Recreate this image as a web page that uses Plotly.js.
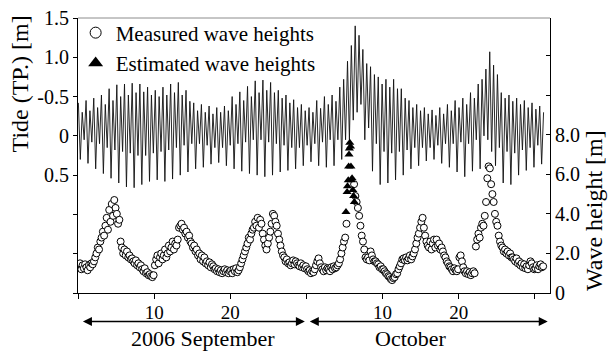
<!DOCTYPE html>
<html>
<head>
<meta charset="utf-8">
<script src="https://cdn.plot.ly/plotly-3.0.1.min.js"></script>
<style>html,body{margin:0;padding:0;background:#fff;}#chart{width:615px;height:353px;}</style>
</head>
<body>
<div id="chart"></div>
<script>
// ---- Data ----
// Time axis: days counted from 31 Aug 2006 (Sep d -> d, Oct d -> 30 + d)
const xTickVals = [0, 10, 20, 30, 40, 50, 60];
const xTickText = ['', '10', '20', '', '10', '20', ''];

// Tide (TP.) [m]: successive high / low water levels
const tideStart = 0.05;
const tideStep = 0.2525;
const tideLevels = [
  -0.42, 0.30, -0.30, 0.05,  -0.45, 0.35, -0.32, 0.08,  -0.48, 0.42, -0.36, 0.10,
  -0.52, 0.48, -0.40, 0.15,  -0.60, 0.54, -0.45, 0.18,  -0.65, 0.60, -0.50, 0.20,
  -0.66, 0.65, -0.52, 0.22,  -0.67, 0.66, -0.55, 0.25,  -0.66, 0.62, -0.56, 0.25,
  -0.62, 0.58, -0.52, 0.22,  -0.58, 0.56, -0.50, 0.20,  -0.62, 0.58, -0.52, 0.18,
  -0.66, 0.55, -0.55, 0.15,  -0.68, 0.50, -0.52, 0.12,  -0.58, 0.46, -0.44, 0.10,
  -0.42, 0.42, -0.32, 0.10,  -0.40, 0.40, -0.30, 0.12,  -0.38, 0.36, -0.28, 0.15,
  -0.36, 0.34, -0.30, 0.15,  -0.38, 0.38, -0.32, 0.12,  -0.50, 0.42, -0.40, 0.10,
  -0.56, 0.45, -0.45, 0.08,  -0.63, 0.48, -0.50, 0.05,  -0.70, 0.50, -0.55, 0.05,
  -0.71, 0.52, -0.58, 0.08,  -0.68, 0.50, -0.55, 0.10,  -0.58, 0.46, -0.48, 0.12,
  -0.52, 0.44, -0.42, 0.15,  -0.46, 0.42, -0.36, 0.15,  -0.40, 0.38, -0.32, 0.12,
  -0.36, 0.33, -0.30, 0.10,  -0.45, 0.38, -0.35, 0.08,  -0.50, 0.40, -0.40, 0.05,
  -0.52, 0.38, -0.44, 0.05,  -0.62, 0.30, -0.72, 0.05,  -0.95, 0.05, -1.15, -0.20,
  -1.40, -0.30, -1.28, -0.40, -1.10, 0.05, -0.92, -0.10, -0.88, 0.45, -0.78, 0.10,
  -0.75, 0.62, -0.66, 0.20,  -0.72, 0.60, -0.62, 0.22,  -0.72, 0.56, -0.60, 0.20,
  -0.60, 0.50, -0.48, 0.18,  -0.45, 0.42, -0.36, 0.15,  -0.40, 0.38, -0.32, 0.15,
  -0.36, 0.32, -0.28, 0.15,  -0.33, 0.30, -0.26, 0.12,  -0.36, 0.35, -0.28, 0.10,
  -0.40, 0.40, -0.32, 0.10,  -0.45, 0.46, -0.36, 0.08,  -0.48, 0.52, -0.40, 0.10,
  -0.55, 0.45, -0.48, 0.05,  -0.66, 0.42, -0.72, 0.00,  -0.85, 0.05, -1.07, 0.20,
  -0.90, 0.38, -0.78, 0.15,  -0.55, 0.60, -0.48, 0.20,  -0.52, 0.62, -0.44, 0.22,
  -0.48, 0.50, -0.40, 0.18,  -0.45, 0.44, -0.36, 0.15,  -0.42, 0.40, -0.34, 0.12,
  -0.38, 0.36, -0.30
];

// Measured wave heights [m], 4-hourly
const waveStart = 0.1;
const waveStep = 1 / 6;
const measuredWave = [
  1.3, 1.5, 1.2, 1.4, 1.25, 1.45,    1.3, 1.15, 1.4, 1.3, 1.5, 1.45,
  1.6, 1.8, 2.0, 2.3, 2.2, 2.6,      2.8, 3.1, 2.9, 3.4, 3.8, 3.2,
  4.2, 3.6, 4.5, 3.9, 4.7, 4.3,      4.0, 3.5, 3.7, 2.6, 2.3, 2.0,
  2.2, 1.9, 2.1, 1.8, 1.9, 1.7,      1.75, 1.6, 1.5, 1.65, 1.4, 1.5,
  1.3, 1.4, 1.2, 1.1, 1.25, 1.0,     1.05, 0.9, 0.95, 0.85, 0.8, 0.9,
  1.4, 1.7, 1.9, 1.5, 1.8, 2.0,      1.7, 1.9, 2.2, 1.8, 2.0, 2.4,
  2.1, 2.3, 2.6, 2.2, 2.5, 2.4,      2.7, 3.3, 3.4, 3.5, 3.2, 3.3,
  3.0, 3.1, 2.8, 2.9, 2.6, 2.5,      2.3, 2.4, 2.1, 2.2, 1.9, 2.0,
  1.7, 1.9, 1.6, 1.8, 1.5, 1.6,      1.4, 1.55, 1.3, 1.45, 1.35, 1.2,
  1.25, 1.1, 1.2, 1.05, 1.15, 1.0,   1.1, 1.2, 1.05, 1.15, 1.0, 1.1,
  1.15, 1.0, 1.2, 1.1, 1.25, 1.05,   1.15, 1.3, 1.5, 1.7, 1.9, 2.1,
  2.3, 2.5, 2.8, 2.7, 3.0, 3.2,      3.3, 3.6, 3.4, 3.8, 3.3, 3.7,
  3.5, 3.0, 2.7, 2.4, 2.2, 2.5,      2.8, 3.1, 3.5, 4.0, 3.9, 3.6,
  3.4, 3.0, 2.7, 2.4, 2.1, 1.9,      1.8, 1.6, 1.7, 1.5, 1.55, 1.4,
  1.5, 1.65, 1.45, 1.6, 1.5, 1.4,    1.35, 1.5, 1.3, 1.4, 1.25, 1.35,
  1.2, 1.1, 1.15, 1.0, 1.1, 1.05,    1.2, 1.4, 1.6, 1.75, 1.5, 1.3,
  1.2, 1.1, 1.3, 1.15, 1.25, 1.2,    1.1, 1.3, 1.2, 1.35, 1.25, 1.3,
  1.4, 1.5, 1.7, 2.0, 2.3, 2.6,      2.8, 3.5, null, null, null, null,
  null, 5.5, 4.9, 4.6, 4.3, 3.9,     3.4, 2.9, 2.6, 2.2, 1.8, 1.7,
  1.8, 1.65, 2.1, 1.9, 1.7, 1.6,     1.6, 1.5, 1.45, 1.3, 1.35, 1.2,
  1.2, 1.1, 1.0, 0.95, 0.85, 0.8,    0.7, 0.65, 0.75, 0.8, 0.95, 1.0,
  1.2, 1.35, 1.5, 1.7, 1.75, 1.65,   1.8, 1.65, 1.75, 1.9, 1.7, 1.85,
  2.0, 2.2, 2.5, 2.8, 3.0, 3.3,      3.6, 3.8, 3.3, 2.9, 2.6, 2.4,
  2.3, 2.6, 2.2, 2.5, 2.7, 2.3,      2.7, 2.4, 2.5, 2.2, 2.3, 2.1,
  1.9, 1.8, 1.6, 1.5, 1.35, 1.3,     1.2, 1.1, 1.25, 1.15, 1.1, 1.2,
  1.8, 1.9, 1.6, 1.3, 1.1, 1.0,      1.1, 0.95, 1.05, 0.9, 1.0, 1.1,
  1.0, 2.35, 2.7, 3.0, 2.8, 3.3,     3.5, 3.4, 3.9, 4.6, 5.8, 6.4,
  6.3, 5.5, 5.0, 4.6, 4.0, 3.6,      3.4, 2.9, 2.6, 2.4, 2.3, 2.1,
  2.2, 2.0, 2.1, 1.9, 2.0, 1.8,      1.8, 1.7, 1.6, 1.75, 1.5, 1.6,
  1.4, 1.5, 1.3, 1.45, 1.25, 1.35,   1.2, 1.4, 1.6, 1.5, 1.3, 1.2,
  1.25, 1.4, 1.2, 1.35, 1.45, 1.3,   1.35
];

// Estimated wave heights [m]
const estDay = [35.2, 35.35, 35.4, 35.5, 35.55, 35.6, 35.65, 35.7, 35.8, 35.85, 35.9, 36.0, 36.1, 36.2, 36.3];
const estWave = [4.1, 5.1, 5.4, 5.7, 6.4, 7.0, 7.3, 7.6, 7.4, 6.4, 5.7, 5.8, 5.2, 4.9, 4.6];

// Axis ticks
const tideTickVals = [-1.5, -1.0, -0.5, 0, 0.5, 1.0, 1.5, 2.0];
const tideTickText = ['1.5', '1.0', '-0.5', '0', '0.5', '', '', ''];
const waveTickVals = [0, 2, 4, 6, 8, 10, 12];
const waveTickText = ['0', '2.0', '4.0', '6.0', '8.0', '', ''];

// ---- Build traces ----
const tideX = tideLevels.map((_, i) => tideStart + i * tideStep);
const waveX = measuredWave.map((_, i) => waveStart + i * waveStep);

const FONT = '"Liberation Serif", "Times New Roman", serif';

const traces = [
  {x: tideX, y: tideLevels, type: 'scatter', mode: 'lines',
   line: {color: '#111', width: 0.9}, showlegend: false, yaxis: 'y', hoverinfo: 'skip'},
  {x: waveX, y: measuredWave, type: 'scatter', mode: 'markers', showlegend: false,
   marker: {symbol: 'circle', size: 7, color: '#fff', line: {color: '#000', width: 1}},
   yaxis: 'y2'},
  {x: estDay, y: estWave, type: 'scatter', mode: 'markers', showlegend: false,
   marker: {symbol: 'triangle-up', size: 8, color: '#000', line: {width: 0}},
   yaxis: 'y2'},
  // legend entries (larger symbols as in the original key)
  {x: [null], y: [null], type: 'scatter', mode: 'markers', name: 'Measured wave heights',
   marker: {symbol: 'circle', size: 11, color: '#fff', line: {color: '#000', width: 1}}, yaxis: 'y2'},
  {x: [null], y: [null], type: 'scatter', mode: 'markers', name: 'Estimated wave heights',
   marker: {symbol: 'triangle-up', size: 13, color: '#000', line: {width: 0}}, yaxis: 'y2'}
];

const layout = {
  width: 615, height: 353,
  margin: {l: 78, r: 65, t: 15, b: 60},
  paper_bgcolor: '#fff', plot_bgcolor: '#fff',
  font: {family: FONT, size: 19, color: '#000'},
  showlegend: true,
  legend: {
    x: -0.005, y: 1.02, xanchor: 'left', yanchor: 'top',
    bgcolor: 'rgba(0,0,0,0)', font: {family: FONT, size: 21, color: '#000'},
    itemsizing: 'trace', tracegroupgap: 0
  },
  xaxis: {
    range: [0, 62], showgrid: false, zeroline: false,
    showline: true, linecolor: '#000', linewidth: 1,
    ticks: 'outside', ticklen: 5, tickcolor: '#000',
    tickvals: xTickVals, ticktext: xTickText, ticklabelstandoff: -3,
    tickfont: {family: FONT, size: 19}
  },
  yaxis: {
    range: [2.0, -1.5], showgrid: false, zeroline: false,
    showline: true, linecolor: '#000', linewidth: 1,
    ticks: 'outside', ticklen: 4, tickcolor: '#000',
    tickvals: tideTickVals, ticktext: tideTickText,
    tickfont: {family: FONT, size: 20}
  },
  yaxis2: {
    overlaying: 'y', side: 'right',
    range: [0, 13.9], showgrid: false, zeroline: false,
    showline: true, linecolor: '#000', linewidth: 1,
    ticks: 'inside', ticklen: 4, tickcolor: '#000',
    tickvals: waveTickVals, ticktext: waveTickText,
    tickfont: {family: FONT, size: 20}
  },
  shapes: [
    {type: 'line', xref: 'paper', yref: 'paper', x0: 0, x1: 1, y0: 1, y1: 1,
     line: {color: '#8c8c8c', width: 1}}
  ],
  annotations: [
    {text: 'Tide (TP.) [m]', xref: 'paper', yref: 'paper', x: -0.122, y: 0.76,
     xanchor: 'center', yanchor: 'middle', textangle: -90, showarrow: false,
     font: {family: FONT, size: 24}},
    {text: 'Wave height [m]', xref: 'paper', yref: 'paper', x: 1.092, y: 0.30,
     xanchor: 'center', yanchor: 'middle', textangle: -90, showarrow: false,
     font: {family: FONT, size: 24}},
    {text: '2006 September', xref: 'paper', yref: 'paper', x: 0.264, y: -0.165,
     xanchor: 'center', yanchor: 'middle', showarrow: false, font: {family: FONT, size: 22}},
    {text: 'October', xref: 'paper', yref: 'paper', x: 0.705, y: -0.165,
     xanchor: 'center', yanchor: 'middle', showarrow: false, font: {family: FONT, size: 22}},
    {text: '', xref: 'x', yref: 'paper', x: 29.8, y: -0.104, axref: 'x', ayref: 'pixel',
     ax: 0.45, ay: 0, showarrow: true, arrowside: 'end+start', arrowhead: 2,
     arrowsize: 1.2, arrowwidth: 1.5, arrowcolor: '#000', standoff: 0, startstandoff: 0},
    {text: '', xref: 'x', yref: 'paper', x: 61.7, y: -0.104, axref: 'x', ayref: 'pixel',
     ax: 30.25, ay: 0, showarrow: true, arrowside: 'end+start', arrowhead: 2,
     arrowsize: 1.2, arrowwidth: 1.5, arrowcolor: '#000', standoff: 0, startstandoff: 0}
  ]
};

Plotly.newPlot('chart', traces, layout, {displayModeBar: false, staticPlot: true});
</script>
</body>
</html>
